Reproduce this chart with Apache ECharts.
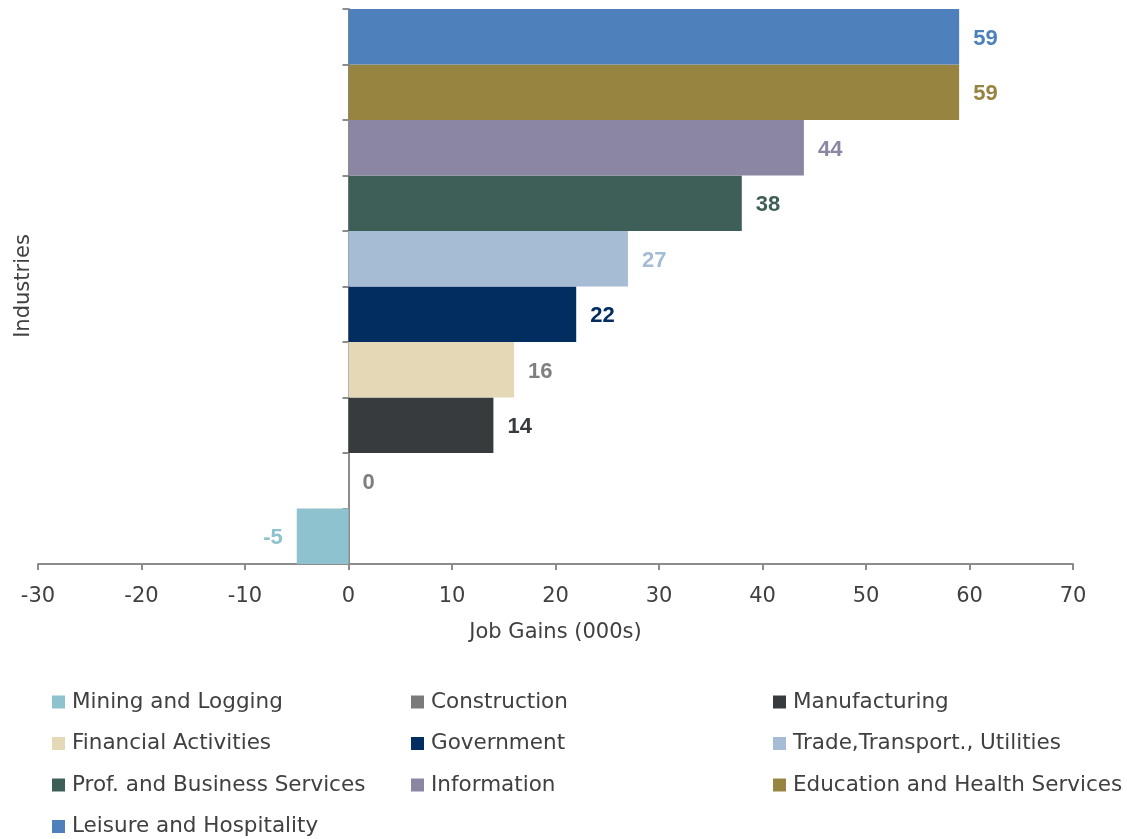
<!DOCTYPE html>
<html>
<head>
<meta charset="utf-8">
<script src="https://cdn.jsdelivr.net/npm/echarts@6/dist/echarts.min.js"></script>
<style>
  html, body { margin: 0; padding: 0; background: #ffffff; }
  #chart { width: 1127px; height: 839px; }
</style>
</head>
<body>
<div id="chart"></div>
<script>
// Industries, bottom to top on the category axis
const industries = [
  'Mining and Logging',
  'Construction',
  'Manufacturing',
  'Financial Activities',
  'Government',
  'Trade,Transport., Utilities',
  'Prof. and Business Services',
  'Information',
  'Education and Health Services',
  'Leisure and Hospitality'
];

// Job gains in thousands, one per industry
const jobGains = [-5, 0, 14, 16, 22, 27, 38, 44, 59, 59];

// Bar fill colours and value-label colours per industry
const barColors = [
  '#8dc2ce', '#7a7a7a', '#383b3e', '#e4d8b7', '#012d61',
  '#a6bbd4', '#3e5e58', '#8b87a3', '#978440', '#4e80bb'
];
const labelColors = [
  '#8dc2ce', '#7f7f7f', '#383b3e', '#7f7f7f', '#012d61',
  '#a6bbd4', '#3e5e58', '#8b87a3', '#978440', '#4e80bb'
];

// Value axis ticks
const xTicks = { min: -30, max: 70, interval: 10 };

// Axis titles
const xTitle = 'Job Gains (000s)';
const yTitle = 'Industries';

// Legend columns (reading order row by row, three per row)
const legendColumns = [
  ['Mining and Logging', 'Financial Activities', 'Prof. and Business Services', 'Leisure and Hospitality'],
  ['Construction', 'Government', 'Information'],
  ['Manufacturing', 'Trade,Transport., Utilities', 'Education and Health Services']
];

const FONT = '"DejaVu Sans", "Liberation Sans", sans-serif';
const LABEL_FONT = '"Liberation Sans", Arial, sans-serif';
const AXIS_GREY = '#8c8c8c';
const TEXT_GREY = '#404040';

// One series per industry so each gets its own legend entry;
// the bars share a single slot per category via barGap -100%.
const series = industries.map((name, i) => {
  const data = industries.map((_, j) => (j === i ? jobGains[i] : '-'));
  return {
    name: name,
    type: 'bar',
    data: data,
    barGap: '-100%',
    barCategoryGap: '0%',
    itemStyle: { color: barColors[i] },
    label: {
      show: true,
      position: jobGains[i] < 0 ? 'left' : 'right',
      distance: 14,
      offset: [0, 2],
      color: labelColors[i],
      fontFamily: LABEL_FONT,
      fontWeight: 'bold',
      fontSize: 22
    },
    emphasis: { disabled: true }
  };
});

const legends = legendColumns.map((items, c) => ({
  data: items,
  orient: 'vertical',
  left: [52, 411, 773][c],
  top: 691,
  itemWidth: 13,
  itemHeight: 13,
  itemGap: 19.5,
  icon: 'rect',
  selectedMode: false,
  padding: 0,
  textStyle: {
    fontFamily: FONT,
    fontSize: 21.5,
    lineHeight: 21.5,
    color: TEXT_GREY,
    padding: [0, 0, 0, 2]
  }
}));

const chart = echarts.init(document.getElementById('chart'), null, { renderer: 'canvas' });
chart.setOption({
  backgroundColor: '#ffffff',
  animation: false,
  grid: { left: 38, right: 54, top: 9, bottom: 275, containLabel: false, outerBoundsMode: 'none' },
  legend: legends,
  // Vertical title for the category axis, set at the far left of the chart
  graphic: [{
    type: 'text',
    x: 24,
    y: 286,
    rotation: Math.PI / 2,
    style: {
      text: yTitle,
      fontFamily: FONT,
      fontSize: 21,
      fill: TEXT_GREY,
      align: 'center',
      verticalAlign: 'middle'
    }
  }],
  xAxis: {
    type: 'value',
    min: xTicks.min,
    max: xTicks.max,
    interval: xTicks.interval,
    name: xTitle,
    nameLocation: 'middle',
    nameGap: 58,
    nameTextStyle: { fontFamily: FONT, fontSize: 21, color: TEXT_GREY },
    axisLine: { show: true, onZero: false, lineStyle: { color: AXIS_GREY, width: 2 } },
    axisTick: { show: true, length: 6, lineStyle: { color: AXIS_GREY, width: 2 } },
    axisLabel: { fontFamily: FONT, fontSize: 21, color: TEXT_GREY, margin: 22 },
    splitLine: { show: false }
  },
  yAxis: {
    type: 'category',
    data: industries,
    axisLine: { show: true, onZero: true, lineStyle: { color: AXIS_GREY, width: 2 } },
    axisTick: { show: true, length: 6, lineStyle: { color: AXIS_GREY, width: 2 } },
    axisLabel: { show: false },
    splitLine: { show: false }
  },
  series: series
});
</script>
</body>
</html>
